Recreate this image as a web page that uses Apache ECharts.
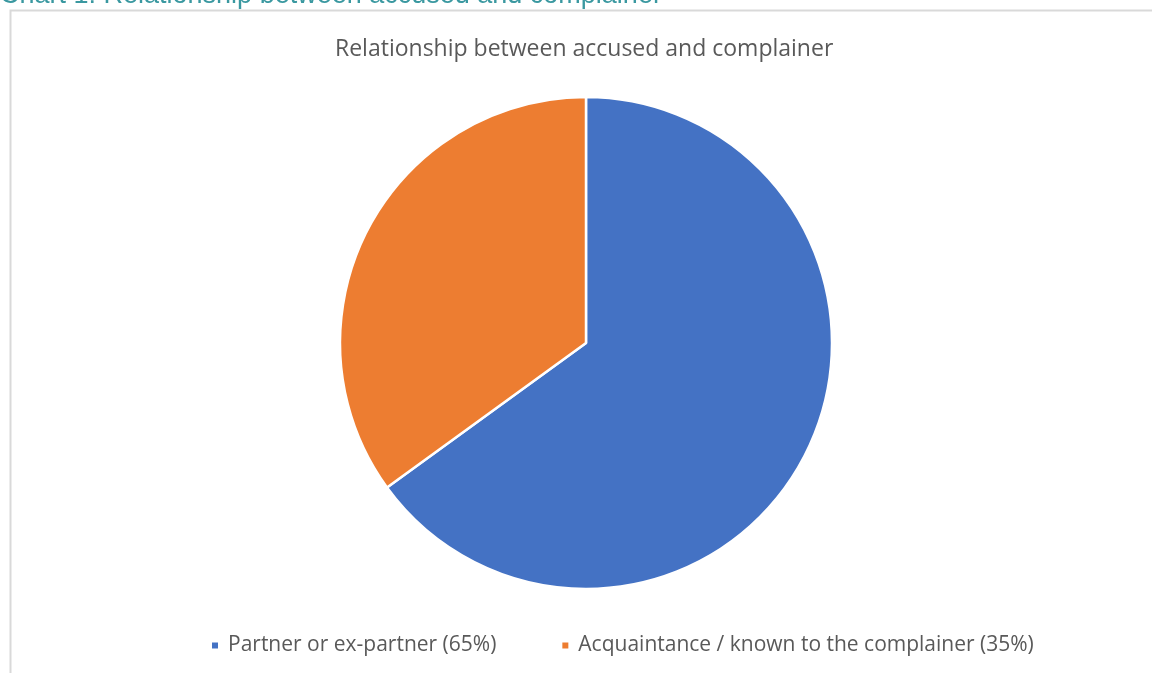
<!DOCTYPE html>
<html>
<head>
<meta charset="utf-8">
<script src="https://cdn.jsdelivr.net/npm/echarts@6/dist/echarts.min.js"></script>
<style>
html,body{margin:0;padding:0;background:#fff;}
#chart{width:1152px;height:673px;}
</style>
</head>
<body>
<div id="chart"></div>
<script>
const categories = ["Partner or ex-partner (65%)", "Acquaintance / known to the complainer (35%)"];
const values = [65, 35];
const colors = ["#4472C4", "#ED7D31"];

const chart = echarts.init(document.getElementById('chart'), null, {renderer: 'canvas'});
chart.setOption({
  backgroundColor: '#ffffff',
  animation: false,
  title: {
    text: 'Relationship between accused and complainer',
    left: 335,
    top: 38,
    padding: 0,
    textStyle: {fontFamily: 'Open Sans', fontSize: 23, fontWeight: 'normal', color: '#595959'}
  },
  legend: {
    data: categories,
    top: 635,
    left: 210,
    padding: 0,
    icon: 'rect',
    itemWidth: 8,
    itemHeight: 8,
    itemGap: 64,
    textStyle: {fontFamily: 'Open Sans', fontSize: 21, color: '#595959', padding: [0, 0, 0, 4]}
  },
  graphic: [
    {type: 'rect', shape: {x: 10.5, y: 10.5, width: 1200, height: 700}, style: {fill: 'none', stroke: '#d9d9d9', lineWidth: 2}, silent: true},
    {type: 'text', left: 0, top: -18, style: {text: 'Chart 1: Relationship between accused and complainer', fontFamily: 'Liberation Sans', fontSize: 27, fill: '#3A98A0'}}
  ],
  series: [{
    type: 'pie',
    center: [586, 343],
    radius: 246,
    startAngle: 90,
    clockwise: true,
    label: {show: false},
    labelLine: {show: false},
    itemStyle: {borderColor: '#ffffff', borderWidth: 2.5},
    data: categories.map((c, i) => ({name: c, value: values[i], itemStyle: {color: colors[i]}}))
  }]
});
</script>
</body>
</html>
